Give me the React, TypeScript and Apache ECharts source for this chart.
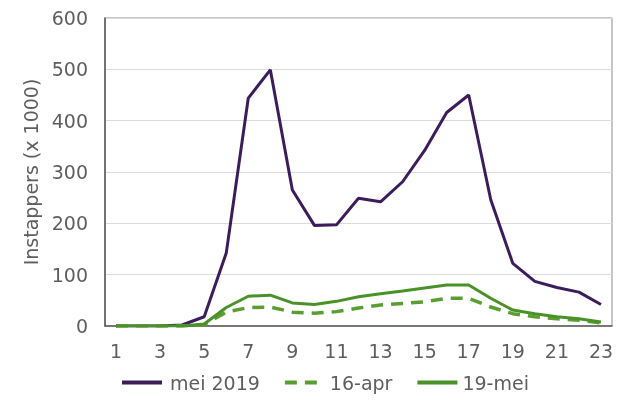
import React, { useEffect, useRef } from "react";
import * as echarts from "echarts";

const hours = ["1","2","3","4","5","6","7","8","9","10","11","12","13","14","15","16","17","18","19","20","21","22","23"];
const mei2019 = [0, 0, 0, 2, 18, 142, 444, 499, 265, 196, 197, 249, 242, 281, 342, 416, 450, 246, 122, 87, 75, 66, 42];
const apr16 = [0, 0, 0, 0, 3, 27, 36, 37, 27, 25, 28, 35, 41, 44, 47, 54, 54, 37, 24, 18, 14, 11, 6];
const mei19 = [0, 0, 0, 0, 4, 36, 58, 60, 45, 42, 48, 57, 63, 68, 74, 80, 80, 54, 31, 24, 18, 14, 8];
const yTicks = { min: 0, max: 600, interval: 100 };

export default function App() {
  const ref = useRef<HTMLDivElement>(null);
  useEffect(() => {
    if (!ref.current) return;
    const chart = echarts.init(ref.current, null, { renderer: "svg" });
    const font = "DejaVu Sans";
    const textColor = "#5e5e5e";
    chart.setOption({
      animation: false,
      textStyle: { fontFamily: font },
      grid: {
        left: 105,
        right: 15,
        top: 18,
        bottom: 74,
        show: true,
        borderColor: "#8c8c8c",
        borderWidth: 1,
      },
      legend: {
        left: 115,
        top: 368,
        itemWidth: 40,
        itemHeight: 14,
        itemGap: 23,
        itemStyle: { opacity: 0 },
        lineStyle: { width: 4 },
        textStyle: { fontFamily: font, fontSize: 19, color: textColor },
        data: [
          { name: "mei 2019", textStyle: { padding: [0, 0, 0, 3] } },
          { name: "16-apr", textStyle: { padding: [0, 4, 0, 0] } },
          { name: "19-mei" },
        ],
      },
      xAxis: {
        type: "category",
        data: hours,
        boundaryGap: true,
        axisLine: { lineStyle: { color: "#595959", width: 1.5 } },
        axisTick: { show: false },
        axisLabel: { interval: 1, color: textColor, fontSize: 19, fontFamily: font, margin: 15 },
      },
      yAxis: {
        type: "value",
        min: yTicks.min,
        max: yTicks.max,
        interval: yTicks.interval,
        name: "Instappers (x 1000)",
        nameLocation: "middle",
        nameGap: 60,
        nameTextStyle: { color: textColor, fontSize: 19, fontFamily: font },
        axisLine: { show: true, lineStyle: { color: "#595959", width: 1.5 } },
        axisTick: { show: false },
        axisLabel: { color: textColor, fontSize: 19, fontFamily: font, margin: 17 },
        splitLine: { lineStyle: { color: "#dcdcdc", width: 1 } },
      },
      series: [
        {
          name: "mei 2019",
          type: "line",
          data: mei2019,
          symbol: "none",
          lineStyle: { color: "#3d1c5c", width: 3 },
          itemStyle: { color: "#3d1c5c" },
        },
        {
          name: "16-apr",
          type: "line",
          data: apr16,
          symbol: "none",
          lineStyle: { color: "#5a9e32", width: 3.5, type: [12, 8] },
          itemStyle: { color: "#5a9e32" },
        },
        {
          name: "19-mei",
          type: "line",
          data: mei19,
          symbol: "none",
          lineStyle: { color: "#4a9228", width: 3 },
          itemStyle: { color: "#4a9228" },
        },
      ],
    });
    return () => chart.dispose();
  }, []);
  return (
    <div
      ref={ref}
      style={{ position: "fixed", left: 0, top: 0, width: 627, height: 400 }}
    />
  );
}
